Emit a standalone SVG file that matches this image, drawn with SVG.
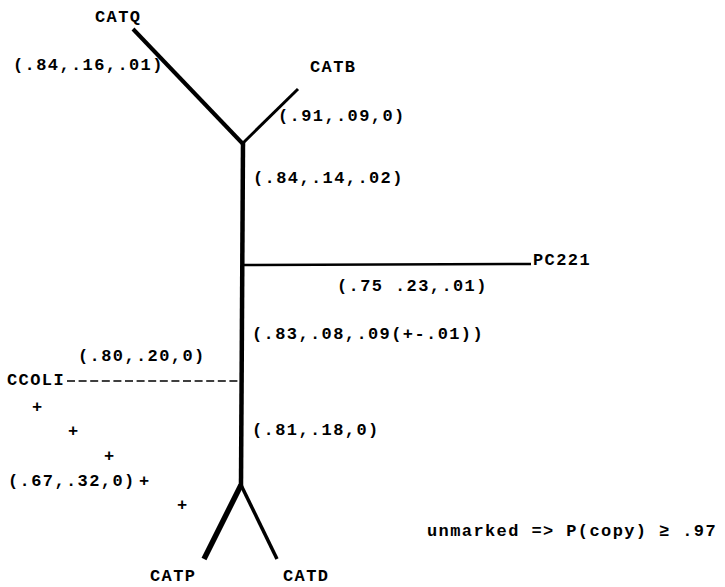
<svg xmlns="http://www.w3.org/2000/svg" width="725" height="587" viewBox="0 0 725 587">
<style>
text{font-family:"Liberation Mono","DejaVu Sans Mono",monospace;font-weight:bold;font-size:17px;fill:#000;letter-spacing:1.4px}
.p{letter-spacing:0;text-anchor:middle}
.e{stroke:#000;fill:none;stroke-linecap:butt}
</style>
<rect width="725" height="587" fill="#fff"/>
<g id="connectors">
<line class="e" x1="133" y1="29" x2="243" y2="144" stroke-width="4"/>
<line class="e" x1="242" y1="144" x2="298" y2="89" stroke-width="3"/>
<line class="e" x1="243" y1="142" x2="241" y2="486" stroke-width="4.5"/>
<line class="e" x1="243" y1="265" x2="531" y2="264" stroke-width="2.5"/>
<line class="e" x1="67" y1="381" x2="238" y2="381" stroke-width="1.5" stroke-dasharray="8 3.6"/>
<line class="e" x1="241" y1="485" x2="204" y2="559" stroke-width="5.5"/>
<line class="e" x1="241" y1="485" x2="277" y2="559" stroke-width="3.5"/>
<g id="ccoli-alt">
<text class="p" x="37" y="412">+</text>
<text class="p" x="73" y="436">+</text>
<text class="p" x="109" y="461">+</text>
<text class="p" x="144" y="486">+</text>
<text class="p" x="182" y="510">+</text>
</g>
</g>
<g id="CATQ"><text x="95" y="22">CATQ</text></g>
<g id="CATB"><text x="310" y="72">CATB</text></g>
<g id="PC221"><text x="533" y="265">PC221</text></g>
<g id="CCOLI"><text x="7" y="385">CCOLI</text></g>
<g id="CATP"><text x="150" y="581">CATP</text></g>
<g id="CATD"><text x="283" y="581">CATD</text></g>
<g id="labels">
<text x="13" y="70">(.84,.16,.01)</text>
<text x="278" y="121">(.91,.09,0)</text>
<text x="253" y="183">(.84,.14,.02)</text>
<text x="337" y="291">(.75 .23,.01)</text>
<text x="252" y="339">(.83,.08,.09(+-.01))</text>
<text x="78" y="361">(.80,.20,0)</text>
<text x="252" y="435">(.81,.18,0)</text>
<text x="8" y="486">(.67,.32,0)</text>
<text x="427" y="536">unmarked =&gt; P(copy) ≥ .97</text>
</g>
</svg>
